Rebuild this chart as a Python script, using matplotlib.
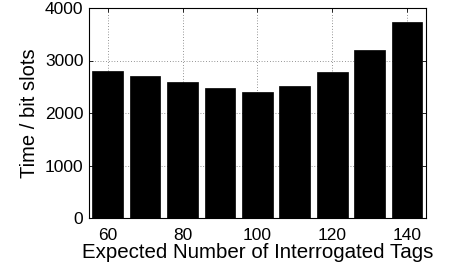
import matplotlib
matplotlib.use('Agg')
import matplotlib.pyplot as plt
import numpy as np

plt.rcParams['font.family'] = ['Liberation Sans', 'DejaVu Sans']

# expected number of tags vs time
tags = [60, 70, 80, 90, 100, 110, 120, 130, 140]
slots = [2800, 2700, 2600, 2480, 2400, 2520, 2790, 3200, 3730]
xticks = [60, 80, 100, 120, 140]
yticks = [0, 1000, 2000, 3000, 4000]

fig = plt.figure(figsize=(4.7, 2.72), dpi=100)
ax = fig.add_axes([89/470, 1 - 218/272, (425.7 - 89)/470, (218 - 8)/272])

ax.grid(True, linestyle=(0, (1, 3)), color='black', linewidth=0.5, alpha=0.8)
ax.set_axisbelow(True)
ax.bar(tags, slots, width=8.2, color='black', edgecolor='black', linewidth=0.5)

ax.set_xlim(55, 145)
ax.set_ylim(0, 4000)
ax.set_xticks(xticks)
ax.set_yticks(yticks)
ax.tick_params(direction='in', top=True, right=True, length=3, labelsize=12.5, width=0.6)
ax.tick_params(axis='x', pad=7)
ax.tick_params(axis='y', pad=4)
for s in ax.spines.values():
    s.set_linewidth(0.8)

ax.set_xlabel('Expected Number of Interrogated Tags', fontsize=14.8, labelpad=0)
ax.set_ylabel('Time / bit slots', fontsize=14.5, labelpad=4)

fig.savefig('out.png', dpi=100)
